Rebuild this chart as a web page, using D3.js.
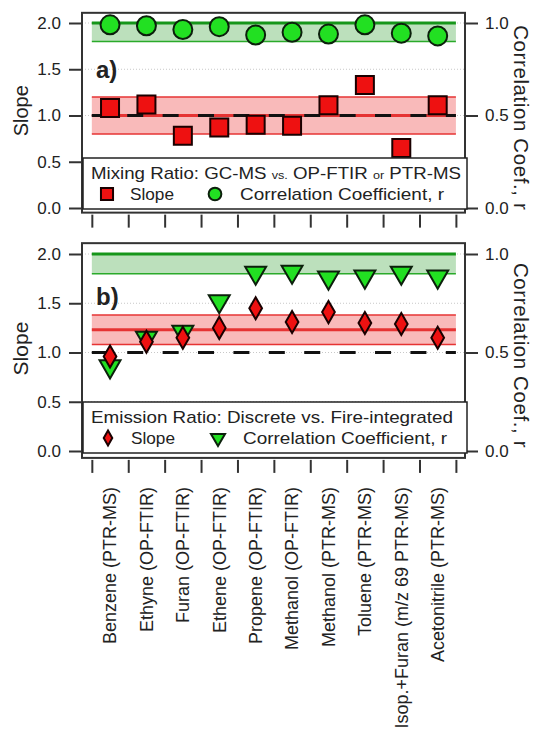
<!DOCTYPE html>
<html>
<head>
<meta charset="utf-8">
<script src="https://cdn.jsdelivr.net/npm/d3@7"></script>
<style>
  body { margin: 0; background: #fff; }
  text { font-family: "Liberation Sans", Arial, sans-serif; fill: #222; }
</style>
</head>
<body>
<div id="chart"></div>
<script>
// data
const categories = ['Benzene (PTR-MS)', 'Ethyne (OP-FTIR)', 'Furan (OP-FTIR)', 'Ethene (OP-FTIR)',
    'Propene (OP-FTIR)', 'Methanol (OP-FTIR)', 'Methanol (PTR-MS)', 'Toluene (PTR-MS)',
    'Isop.+Furan (m/z 69 PTR-MS)', 'Acetonitrile (PTR-MS)'];

// panel a) mixing ratio
const slopeA = [1.08, 1.12, 0.78, 0.87, 0.90, 0.89, 1.11, 1.33, 0.65, 1.11];
const corrA = [0.99, 0.985, 0.965, 0.98, 0.935, 0.95, 0.94, 0.99, 0.945, 0.93];
const slopeBandA = [0.8, 1.0, 1.2];   // low, mean, high
const corrBandA = [0.9, 1.0];

// panel b) emission ratio
const slopeB = [0.96, 1.11, 1.15, 1.25, 1.45, 1.31, 1.41, 1.30, 1.29, 1.15];
const corrB = [0.43, 0.575, 0.605, 0.76, 0.905, 0.91, 0.88, 0.885, 0.905, 0.885];
const slopeBandB = [1.08, 1.23, 1.38];
const corrBandB = [0.9, 1.0];

const slopeTicks = [0, 0.5, 1.0, 1.5, 2.0];
const corrTicks = [0, 0.5, 1.0];

const W = 538, H = 734;
const svg = d3.select('#chart')
    .append('svg')
    .attr('width', W)
    .attr('height', H);

const x = d3.scaleLinear()
    .domain([-0.27, 10.25])
    .range([82, 465]);

function drawPanel(opt) {
    const y = d3.scaleLinear().domain([0, 2]).range(opt.yRange);
    const yr = d3.scaleLinear().domain([0, 1]).range(opt.yRange);
    const top = y(2.11), bottom = y(opt.yMin);
    const g = svg.append('g');

    // dotted grid
    g.selectAll('.grid')
        .data(slopeTicks)
        .enter().append('line')
        .attr('x1', x.range()[0]).attr('x2', x.range()[1])
        .attr('y1', d => y(d)).attr('y2', d => y(d))
        .attr('stroke', '#c8c8c8')
        .attr('stroke-width', 1)
        .attr('stroke-dasharray', '1,2');

    // correlation band (green)
    g.append('rect')
        .attr('x', x(0)).attr('width', x(10) - x(0))
        .attr('y', yr(opt.corrBand[1]))
        .attr('height', yr(opt.corrBand[0]) - yr(opt.corrBand[1]))
        .attr('fill', '#bce0bc');
    g.append('line')
        .attr('x1', x(0)).attr('x2', x(10))
        .attr('y1', yr(opt.corrBand[1])).attr('y2', yr(opt.corrBand[1]))
        .attr('stroke', '#16961a').attr('stroke-width', 3);
    g.append('line')
        .attr('x1', x(0)).attr('x2', x(10))
        .attr('y1', yr(opt.corrBand[0])).attr('y2', yr(opt.corrBand[0]))
        .attr('stroke', '#2aaa2a').attr('stroke-width', 1.5);

    // slope band (red)
    g.append('rect')
        .attr('x', x(0)).attr('width', x(10) - x(0))
        .attr('y', y(opt.slopeBand[2]))
        .attr('height', y(opt.slopeBand[0]) - y(opt.slopeBand[2]))
        .attr('fill', '#f9baba');
    g.selectAll('.sband')
        .data(opt.slopeBand)
        .enter().append('line')
        .attr('x1', x(0)).attr('x2', x(10))
        .attr('y1', d => y(d)).attr('y2', d => y(d))
        .attr('stroke', '#e63333')
        .attr('stroke-width', (d, i) => i === 1 ? 3 : 1.5);

    // 1:1 dashed line
    g.append('line')
        .attr('x1', x(0)).attr('x2', x(10))
        .attr('y1', y(1)).attr('y2', y(1))
        .attr('stroke', '#111').attr('stroke-width', 3)
        .attr('stroke-dasharray', '16,19.4');

    // frame
    g.append('rect')
        .attr('x', x.range()[0]).attr('y', top)
        .attr('width', x.range()[1] - x.range()[0])
        .attr('height', bottom - top)
        .attr('fill', 'none')
        .attr('stroke', '#333').attr('stroke-width', 2);

    // axes
    g.append('g')
        .attr('transform', 'translate(' + x.range()[0] + ',0)')
        .call(d3.axisLeft(y).tickValues(slopeTicks).tickFormat(d3.format('.1f')).tickSize(13).tickPadding(8));
    g.append('g')
        .attr('transform', 'translate(' + x.range()[1] + ',0)')
        .call(d3.axisRight(yr).tickValues(corrTicks).tickFormat(d3.format('.1f')).tickSize(13).tickPadding(7));
    g.append('g')
        .attr('transform', 'translate(0,' + (bottom + 2) + ')')
        .call(d3.axisBottom(x).tickValues(d3.range(0, 11)).tickFormat('').tickSize(13));
    g.selectAll('.domain').remove();
    g.selectAll('.tick line').attr('stroke', '#333').attr('stroke-width', 2);
    g.selectAll('.tick text').style('font-size', '17px').attr('fill', '#222');

    // points: correlation first, slope on top
    const corrSym = d3.symbol().type(opt.corrType).size(opt.corrSize);
    g.selectAll('.corr')
        .data(opt.corr)
        .enter().append('path')
        .attr('d', corrSym)
        .attr('transform', (d, i) => 'translate(' + x(i + 0.5) + ',' + yr(d) + ')' + (opt.flipCorr ? ' rotate(180)' : ''))
        .attr('fill', '#22e022')
        .attr('stroke', '#0c200c').attr('stroke-width', 2);
    const slopeSym = d3.symbol().type(opt.slopeType).size(opt.slopeSize);
    g.selectAll('.slope')
        .data(opt.slope)
        .enter().append('path')
        .attr('d', slopeSym)
        .attr('transform', (d, i) => 'translate(' + x(i + 0.5) + ',' + y(d) + ')')
        .attr('fill', '#ee1111')
        .attr('stroke', '#1a0000').attr('stroke-width', 2);

    // panel letter
    g.append('text')
        .attr('x', 96).attr('y', opt.letterY)
        .style('font-size', '24px').style('font-weight', 'bold')
        .text(opt.letter);

    // legend
    const lg = g.append('g');
    lg.append('rect')
        .attr('x', 83).attr('y', opt.legendY)
        .attr('width', 384).attr('height', 51)
        .attr('fill', '#fff')
        .attr('stroke', '#222').attr('stroke-width', 1.5);
    const t1 = lg.append('text')
        .attr('x', 91).attr('y', opt.legendY + 21)
        .attr('textLength', opt.titleLen)
        .attr('lengthAdjust', 'spacingAndGlyphs')
        .style('font-size', '17px');
    opt.title.forEach(p => {
        t1.append('tspan').style('font-size', p[1] ? '11.5px' : '17px').text(p[0]);
    });
    const ly = opt.legendY + 36;
    lg.append('path')
        .attr('d', d3.symbol().type(opt.slopeType).size(opt.slopeSize * 0.45))
        .attr('transform', 'translate(' + opt.legSym[0] + ',' + ly + ')')
        .attr('fill', '#ee1111').attr('stroke', '#1a0000').attr('stroke-width', 2);
    lg.append('path')
        .attr('d', d3.symbol().type(opt.corrType).size(opt.corrSize * 0.45))
        .attr('transform', 'translate(' + opt.legSym[1] + ',' + ly + ')' + (opt.flipCorr ? ' rotate(180)' : ''))
        .attr('fill', '#22e022').attr('stroke', '#0c200c').attr('stroke-width', 2);
    lg.append('text')
        .attr('x', opt.legSym[0] + 23).attr('y', ly + 6)
        .attr('textLength', 44).attr('lengthAdjust', 'spacingAndGlyphs')
        .style('font-size', '17px').text('Slope');
    lg.append('text')
        .attr('x', opt.legSym[1] + 25).attr('y', ly + 6)
        .attr('textLength', 204).attr('lengthAdjust', 'spacingAndGlyphs')
        .style('font-size', '17px').text('Correlation Coefficient, r');

    // axis titles
    const mid = (top + bottom) / 2;
    g.append('text')
        .attr('transform', 'translate(28,' + (mid - 2) + ') rotate(-90)')
        .attr('text-anchor', 'middle')
        .style('font-size', opt.slopeFont)
        .text('Slope');
    g.append('text')
        .attr('transform', 'translate(514,' + (mid + 5) + ') rotate(90)')
        .attr('text-anchor', 'middle')
        .style('font-size', '20.5px').style('letter-spacing', '0.6px')
        .text('Correlation Coef., r');
}

drawPanel({
    yRange: [208, 23], yMin: -0.05,
    slope: slopeA, corr: corrA,
    slopeBand: slopeBandA, corrBand: corrBandA,
    slopeType: d3.symbolSquare, slopeSize: 324,
    corrType: d3.symbolCircle, corrSize: 283, flipCorr: false,
    letter: 'a)', letterY: 78,
    legendY: 158, legSym: [107, 215],
    title: [['Mixing Ratio: GC-MS ', false], ['vs.', true], [' OP-FTIR ', false], ['or', true], [' PTR-MS', false]],
    titleLen: 370,
    slopeFont: '20px'
});

drawPanel({
    yRange: [451, 254], yMin: -0.07,
    slope: slopeB, corr: corrB,
    slopeBand: slopeBandB, corrBand: corrBandB,
    slopeType: d3.symbolDiamond, slopeSize: 140,
    corrType: d3.symbolTriangle, corrSize: 190, flipCorr: true,
    letter: 'b)', letterY: 305,
    legendY: 402, legSym: [108, 218],
    title: [['Emission Ratio: Discrete vs. Fire-integrated', false]],
    titleLen: 362,
    slopeFont: '21px'
});

// category labels under the lower panel
svg.append('g')
    .selectAll('text')
    .data(categories)
    .enter().append('text')
    .attr('transform', (d, i) => 'translate(' + x(i + 0.5) + ',487) rotate(-90)')
    .attr('text-anchor', 'end')
    .attr('dy', '0.35em')
    .style('font-size', '18px')
    .text(d => d);
</script>
</body>
</html>
